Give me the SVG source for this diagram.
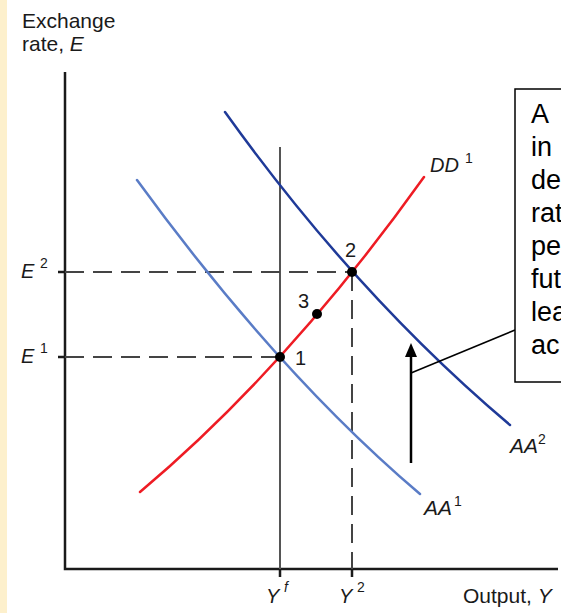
<svg xmlns="http://www.w3.org/2000/svg" width="561" height="613" viewBox="0 0 561 613">
<style>
text{font-family:"Liberation Sans",Arial,sans-serif;fill:#1a1a1a}
.lbl{font-size:20px}
.big{font-size:21px}
.it{font-style:italic}
.sup{font-size:14px}
.axis{stroke:#1a1a1a;stroke-width:2.5;fill:none}
.dash{stroke:#444;stroke-width:2;fill:none;stroke-dasharray:19 9}
.curve{fill:none;stroke-width:2.5;stroke-linecap:round}
.dot{fill:#000}
.box{font-size:27px;fill:#000}
</style>
<rect x="0" y="0" width="561" height="613" fill="#fff"/>
<rect x="0" y="0" width="7" height="613" fill="#fdf0cc"/>

<g id="axes">
<path class="axis" d="M65,72 V569 H558"/>
<path class="axis" d="M58,272 H65 M58,357 H65 M280,569 V577 M352,569 V577" stroke-width="2"/>
<text class="big" x="22" y="28">Exchange</text>
<text class="big" x="22" y="51">rate, <tspan class="it">E</tspan></text>
<text class="big" x="463" y="603">Output, <tspan class="it">Y</tspan></text>
<text class="lbl it" x="266" y="603">Y</text><text class="sup it" x="284" y="592">f</text>
<text class="lbl it" x="339" y="603">Y</text><text class="sup" x="357" y="592">2</text>
<text class="lbl it" x="21" y="278">E</text><text class="sup" x="40" y="268">2</text>
<text class="lbl it" x="21" y="363">E</text><text class="sup" x="40" y="353">1</text>
</g>

<g id="guides">
<line x1="280" y1="147" x2="280" y2="569" stroke="#555" stroke-width="2"/>
<path class="dash" d="M65,272 H352"/>
<path class="dash" d="M65,357 H280"/>
<path class="dash" d="M352,272 V569"/>
</g>

<g id="AA1">
<path class="curve" stroke="#5a7cc6" d="M137,180 Q277.5,373 420,494"/>
<text class="big it" x="424" y="515">AA</text><text class="sup" x="454" y="506">1</text>
</g>
<g id="AA2">
<path class="curve" stroke="#1f3a98" d="M225,112 Q356.5,295.5 510,425"/>
<text class="big it" x="510" y="453">AA</text><text class="sup" x="538" y="444">2</text>
</g>
<g id="DD1">
<path class="curve" stroke="#ee1c24" d="M140,492 Q288,367.5 424,177"/>
<text class="lbl it" x="430" y="172">DD</text><text class="sup" x="465" y="163">1</text>
</g>

<g id="p1"><circle class="dot" cx="280" cy="357" r="5"/><text class="lbl" x="295" y="365">1</text></g>
<g id="p2"><circle class="dot" cx="352" cy="272" r="5"/><text class="lbl" x="345" y="257">2</text></g>
<g id="p3"><circle class="dot" cx="317" cy="314" r="5"/><text class="lbl" x="298" y="308">3</text></g>

<g id="connectors">
<line x1="411" y1="463" x2="411" y2="352" stroke="#000" stroke-width="2.5"/>
<polygon points="411,343 405,357 417,357" fill="#000"/>
<line x1="411" y1="373" x2="515" y2="330" stroke="#000" stroke-width="1.5"/>
</g>

<g id="note">
<rect x="515" y="89" width="60" height="293" fill="#fff" stroke="#000" stroke-width="1.5"/>
<text class="box" x="531" y="123">A</text>
<text class="box" x="531" y="156">in</text>
<text class="box" x="531" y="189">de</text>
<text class="box" x="531" y="222">rat</text>
<text class="box" x="531" y="255">pe</text>
<text class="box" x="531" y="288">fut</text>
<text class="box" x="531" y="321">lea</text>
<text class="box" x="531" y="354">ac</text>
</g>
</svg>
